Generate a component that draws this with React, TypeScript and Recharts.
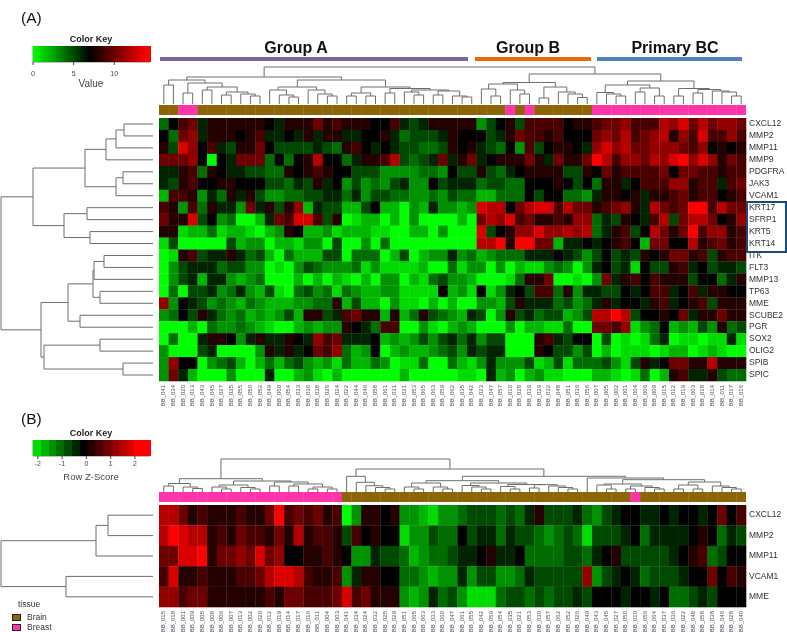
import React from 'react';
import { ScatterChart, Scatter, LineChart, Line, XAxis, YAxis, ReferenceArea } from 'recharts';

const FONT = '"Liberation Sans", Arial, sans-serif';

const GENES_A = ['CXCL12','MMP2','MMP11','MMP9','PDGFRA','JAK3','VCAM1','KRT17','SFRP1','KRT5','KRT14','ITK','FLT3','MMP13','TP63','MME','SCUBE2','PGR','SOX2','OLIG2','SPIB','SPIC'];
const GENES_B = ['CXCL12','MMP2','MMP11','VCAM1','MME'];
const SAMPLES_A = ['041','034','020','013','043','045','027','025','055','050','052','049','060','054','033','030','038','026','024','022','044','046','058','061','031','021','053','065','063','059','062','035','042','023','047','057','010','028','039','029','032','048','051','036','056','007','005','002','001','004','006','009','015','012','019','003','018','014','011','017','016'];
const SAMPLES_B = ['015','018','001','009','005','008','006','007','013','002','020','012','019','014','017','016','011','004','003','041','034','024','032','025','029','051','065','063','033','060','047','061','055','042','059','054','035','021','053','030','057','062','052','026','049','043','045','027','050','010','056','064','037','036','022','048','058','038','046','028','040'];

// Panel A expression values (Color Key scale 0 - 14), one list per gene
const CXCL12_A = [4,7,9,10,6,8,8,8,8,8,8,7,6,8,8,8,10,8,9,8,8,8,7,7,9,6,5,6,8,8,8, 8,8,3,5,7,8,5,9,9,9,9,7,8,8,9,10,10,11,9,9,9,12,11,13,10,12,10,11,11,10];
const MMP2_A = [7,4,10,11,6,8,8,8,7,8,9,6,6,7,6,8,6,8,8,6,6,7,7,8,6,4,5,5,5,6,8, 7,7,7,5,6,8,10,9,9,8,9,7,7,7,10,11,10,12,9,10,11,12,8,11,9,13,9,9,11,9];
const MMP11_A = [8,5,13,11,7,9,6,5,8,8,10,7,5,5,5,5,6,5,4,8,9,7,6,7,6,5,5,4,4,5,8, 7,8,6,5,4,7,3,9,5,7,8,8,7,6,11,13,11,12,10,10,11,11,11,10,9,11,7,8,7,8];
const MMP9_A = [10,10,10,11,7,0,7,6,10,10,10,4,7,4,7,8,12,7,7,4,6,8,8,9,12,5,4,5,6,10,6, 8,10,6,7,8,8,8,10,8,6,10,8,8,10,14,12,9,11,11,10,12,11,13,14,11,13,11,8,10,9];
const PDGFRA_A = [6,6,8,9,4,8,7,6,6,5,5,4,4,8,7,8,9,8,7,7,5,5,5,3,3,3,3,4,4,3,7, 5,5,8,5,4,6,7,8,8,8,8,5,5,8,7,10,8,9,9,9,9,10,7,10,10,9,9,8,9,9];
const JAK3_A = [6,5,8,9,7,7,8,8,7,7,7,5,5,4,6,5,8,6,7,3,5,3,4,3,5,6,3,3,7,5,6, 6,6,4,5,5,4,4,7,7,7,8,7,5,7,4,8,8,6,7,9,9,9,11,11,8,9,9,6,9,10];
const VCAM1_A = [2,9,9,8,3,6,4,8,6,8,5,3,3,4,4,5,5,6,6,4,6,3,5,5,4,4,3,3,4,3,5, 4,4,2,2,4,4,4,7,5,7,7,4,4,3,6,8,8,7,8,6,8,8,9,10,8,9,9,7,8,9];
const KRT17_A = [9,8,3,9,4,8,6,6,3,10,6,8,5,8,11,2,6,5,5,2,2,5,7,2,2,0,3,2,6,3,3, 2,3,13,12,12,7,10,12,13,13,9,12,10,10,8,9,10,11,8,6,12,10,9,10,14,14,9,12,10,10];
const SFRP1_A = [10,8,8,13,5,7,3,4,0,0,2,6,10,9,13,13,9,5,8,0,1,2,2,0,2,0,3,0,0,0,0, 2,0,10,12,11,13,9,10,8,8,9,8,11,11,4,6,5,8,7,6,9,12,5,10,12,12,10,7,8,11];
const KRT5_A = [8,8,1,2,2,4,1,2,2,1,0,2,3,8,7,2,2,3,1,2,2,2,1,1,0,0,2,2,0,3,0, 0,0,13,5,7,8,11,11,13,11,11,12,11,12,4,6,8,9,5,7,12,10,8,10,14,9,11,11,8,9];
const KRT14_A = [1,5,0,0,0,0,0,5,2,3,3,0,2,2,1,3,3,0,5,0,0,3,0,4,0,0,0,0,0,0,0, 0,0,12,12,14,8,14,14,10,10,2,6,6,7,6,7,8,9,7,2,10,10,7,7,12,8,9,10,8,9];
const ITK_A = [0,1,8,9,5,6,6,8,6,4,5,2,0,4,2,2,2,5,5,0,4,4,4,0,2,5,0,2,3,3,6, 3,4,2,3,4,4,4,6,6,6,7,6,5,3,5,7,5,6,5,8,7,8,10,10,8,9,5,8,9,9];
const FLT3_A = [0,3,5,6,6,6,4,5,5,3,3,0,1,0,3,5,4,3,3,3,4,1,3,1,1,1,1,2,0,0,4, 1,3,3,0,3,0,2,1,1,3,4,3,0,3,6,7,5,6,1,7,5,5,8,9,6,7,5,6,6,5];
const MMP13_A = [0,3,5,6,2,6,6,3,2,3,4,0,0,0,2,0,2,0,2,1,0,2,0,3,3,0,2,1,4,5,3, 3,2,0,0,0,1,4,8,8,10,0,0,1,0,3,10,6,8,9,7,9,8,8,8,5,7,7,4,6,8];
const TP63_A = [0,4,0,5,5,6,3,4,6,3,2,5,1,0,4,5,3,4,1,4,3,2,2,3,3,1,1,1,1,7,2, 3,1,7,1,3,6,7,5,9,9,4,8,3,6,6,5,5,7,6,7,9,9,6,7,9,6,8,8,7,7];
const MME_A = [11,3,7,6,5,3,4,3,2,4,3,2,2,2,3,3,4,4,8,2,5,2,2,0,3,1,1,0,2,0,2, 0,0,3,3,2,5,8,6,6,6,4,5,3,4,6,8,6,7,7,6,8,9,6,7,8,9,5,8,8,8];
const SCUBE2_A = [3,4,7,5,8,6,4,3,4,2,3,2,3,5,2,8,8,5,6,9,10,8,8,2,8,2,4,8,5,4,3, 2,6,5,0,3,8,5,6,4,5,5,2,3,5,12,12,14,12,5,7,7,8,7,10,6,8,8,10,8,8];
const PGR_A = [0,0,0,2,0,4,3,3,4,3,2,1,0,0,2,3,2,3,3,8,7,6,4,9,9,0,0,3,1,0,2, 3,2,0,0,0,3,0,2,2,1,1,4,0,0,10,10,9,11,1,3,4,7,2,3,2,5,3,8,4,5];
const SOX2_A = [0,4,0,0,6,8,8,7,3,6,8,6,6,8,7,6,11,9,10,6,6,6,7,2,3,2,3,5,3,5,6, 4,6,3,5,5,0,0,0,8,9,6,5,7,7,0,5,0,1,0,1,4,6,0,1,1,0,1,1,6,1];
const OLIG2_A = [3,0,0,0,5,6,0,0,0,0,3,8,6,8,6,7,10,9,11,4,2,3,7,0,2,3,2,2,3,4,5, 3,6,5,6,6,0,0,0,8,7,5,5,3,5,0,2,0,1,1,1,0,1,2,2,0,1,2,1,0,0];
const SPIB_A = [3,11,7,7,0,3,4,5,2,0,2,4,2,4,5,3,2,3,1,4,2,2,4,3,0,1,1,4,0,0,4, 2,1,3,6,3,3,3,5,1,2,5,1,4,4,4,5,3,1,5,8,6,7,10,10,8,8,12,8,8,8];
const SPIC_A = [3,10,6,2,0,0,0,3,0,0,0,6,0,0,2,3,1,0,2,0,0,0,0,0,0,2,0,0,0,0,0, 1,1,0,6,2,3,0,2,3,1,1,0,0,0,2,2,1,0,1,4,0,2,8,9,6,6,8,5,4,4];
const MATRIX_A = [CXCL12_A,MMP2_A,MMP11_A,MMP9_A,PDGFRA_A,JAK3_A,VCAM1_A,KRT17_A,SFRP1_A,KRT5_A,KRT14_A,ITK_A,FLT3_A,MMP13_A,TP63_A,MME_A,SCUBE2_A,PGR_A,SOX2_A,OLIG2_A,SPIB_A,SPIC_A];

// Panel B colour-key steps per gene (negative green, positive red)
const CXCL12_B = [5,5,3,1,2,1,1,1,2,1,1,3,7,2,3,2,3,1,2,-7,-4,1,1,0,1,-4,-4,-5,-6,-4,-4, -3,-2,-2,-2,-3,-2,-3,-1,1,-2,-2,-2,-1,-3,-4,-2,-1,0,0,-1,-1,0,-1,0,0,-1,0,3,0,2];
const MMP2_B = [5,7,6,5,5,1,2,1,3,2,2,1,3,1,5,1,2,2,1,-2,2,0,1,0,0,-6,-4,-4,-2,-3,-3, 0,-2,-1,-1,-3,-1,-2,-2,-3,-4,-3,-2,-3,-6,-2,-2,-2,-1,0,-3,-1,-1,-1,-1,0,1,0,-3,-1,-2];
const MMP11_B = [3,3,6,6,7,1,3,3,4,3,6,3,4,0,0,1,1,2,1,0,-4,-4,-1,-2,-2,-3,-5,-4,-3,-3,-2, -1,-1,0,1,-1,-1,0,-3,-3,-3,-3,-2,-2,-3,-1,0,1,-2,-2,-2,-2,-2,-1,0,1,2,-3,-2,0,0];
const VCAM1_B = [2,6,1,1,2,1,1,1,2,2,3,5,6,6,5,2,1,1,2,-4,-1,1,1,0,0,-3,-3,-4,-5,-4,-4, -1,-4,-2,-2,-4,-4,-3,-1,-2,-2,-2,-2,-2,4,-4,-2,-1,0,-1,-3,-2,-2,-2,-1,0,0,3,0,2,1];
const MME_B = [4,4,2,3,3,1,1,1,1,1,1,2,1,3,3,2,2,2,3,6,2,3,1,1,1,-4,-5,-4,-1,-3,-2, -4,-6,-6,-6,-3,-2,-2,-3,-2,-3,-2,-2,-1,-2,0,0,0,-1,0,0,-1,0,-3,-3,-2,-1,-2,0,0,0];
const MATRIX_B = [CXCL12_B,MMP2_B,MMP11_B,VCAM1_B,MME_B];

const TISSUE_RUNS_A: [string, number][] = [['Brain',2],['Breast',2],['Brain',32],['Breast',1],['Brain',1],['Breast',1],['Brain',6],['Breast',16]];
const TISSUE_RUNS_B: [string, number][] = [['Breast',19],['Brain',30],['Breast',1],['Brain',11]];
const TISSUE_COLOR: Record<string, string> = { Brain: '#8b6508', Breast: '#ff33aa' };

type Node = number | [Node, Node, number];

const TOP_TREE_A: Node = [
  [
    [[0,1,19],[[2,3,11],[[4,5,14],[[6,7,9],[8,[9,10,8],10],12],17],21],24],
    [
      [[11,[12,[13,14,7],9],14],[15,[16,[17,18,8],10],14],17],
      [[[19,20,8],[21,22,8],11],[[23,24,11],[[25,[26,27,9],12],[[28,29,9],[30,[31,32,7],8],13],14],15.5],17],
      24,
    ],
    27,
  ],
  [
    [[[33,[34,35,8],15],[36,[37,38,10],14],20],[[39,40,6],[41,[42,[43,44,6.5],10],12],17],21.5],
    [
      [[45,[46,[47,48,8],10],11.5],[[49,50,12],[51,52,8],16],19],
      [[53,54,8],[[55,56,11],[57,[58,[59,60,8],12],13],14.5],15.5],
      23,
    ],
    30,
  ],
  37,
];

const TOP_TREE_B: Node = [
  [
    [[0,1,6],[2,[3,4,3.5],5],8.5],
    [[[5,[6,7,3],5],[8,[9,10,3],4.5],7],[[11,12,6],[[13,14,6],[[15,16,3],[17,18,3],5],8],10],11],
    13.3,
  ],
  [
    [19,[20,[21,[22,[23,24,3],4.5],6.3],9.7],15.7],
    [
      [
        [[25,[26,27,3],5],[28,[29,30,3],5],9],
        [[31,[32,[33,34,3],5],6.5],[[35,[36,37,3],5.5],[[38,39,4],[40,[41,[42,43,3],4.5],6],7.3],7.5],9],
        11.3,
      ],
      [44,[[[45,[46,47,3],7],[[48,49,3],[50,[51,52,3],4.5],6],8],[[[53,54,3],[55,56,3],7],[57,[58,[59,60,3],4.5],6],10],12.3],14],
      15.7,
    ],
    23,
  ],
  33,
];

const LEFT_TREE_A: Node = [
  [
    [[[[0,1,29],2,37],3,47],[[4,5,30],6,37],68],
    [[7,8,66],[9,10,63],89],
    120,
  ],
  [
    [[[[11,12,49],13,59],[14,15,53],60],[16,17,73],85],
    [[18,19,53],[20,21,30],109],
    112,
  ],
  152,
];
const LEFT_TREE_B: Node = [[[0,1,45],2,57],[3,4,87],152];

function treePoints(tree: Node, horizontal: boolean) {
  const pts: { x: number; y: number | null }[] = [];
  const walk = (n: Node): { p: number; h: number } => {
    if (typeof n === 'number') return { p: n + 0.5, h: 0 };
    const a = walk(n[0]);
    const b = walk(n[1]);
    const h = n[2];
    const add = (p: number, v: number) => pts.push(horizontal ? { x: p, y: v } : { x: v, y: p });
    add(a.p, a.h); add(a.p, h); add(b.p, h); add(b.p, b.h);
    pts.push({ x: horizontal ? b.p : b.h, y: null });
    return { p: (a.p + b.p) / 2, h };
  };
  walk(tree);
  return pts;
}

const Abs: React.FC<{ left: number; top: number; children: React.ReactNode }> = ({ left, top, children }) => (
  <div style={{ position: 'absolute', left, top, lineHeight: 0 }}>{children}</div>
);

const TopDendro = ({ tree, top, height, maxH }: { tree: Node; top: number; height: number; maxH: number }) => (
  <Abs left={159} top={top}>
    <LineChart width={587} height={height} data={treePoints(tree, true)} margin={{ top: 0, right: 0, bottom: 0, left: 0 }}>
      <XAxis hide type="number" dataKey="x" domain={[0, 61]} />
      <YAxis hide type="number" domain={[0, maxH]} />
      <Line dataKey="y" stroke="#6e6e6e" strokeWidth={1} dot={false} connectNulls={false} isAnimationActive={false} />
    </LineChart>
  </Abs>
);

const LeftDendro = ({ tree, top, height, rows }: { tree: Node; top: number; height: number; rows: number }) => (
  <Abs left={0} top={top}>
    <LineChart width={153} height={height} data={treePoints(tree, false)} margin={{ top: 0, right: 0, bottom: 0, left: 0 }}>
      <XAxis hide reversed type="number" dataKey="x" domain={[0, 153]} />
      <YAxis hide reversed type="number" domain={[0, rows]} />
      <Line dataKey="y" stroke="#6e6e6e" strokeWidth={1} dot={false} connectNulls={false} isAnimationActive={false} />
    </LineChart>
  </Abs>
);

const colorA = (v: number) => {
  if (v < 7) return `rgb(0,${Math.round((255 * (7 - v)) / 7)},0)`;
  return `rgb(${Math.round((255 * (v - 7)) / 7)},0,0)`;
};
const colorB = (v: number) => (v < 0 ? `rgb(0,${Math.round((-v / 7) * 255)},0)` : `rgb(${Math.round((v / 7) * 255)},0,0)`);

const PLOT_W = 587;
const AXIS_H = 27;

const Heat = ({ matrix, genes, samples, top, height, color }: { matrix: number[][]; genes: string[]; samples: string[]; top: number; height: number; color: (v: number) => string }) => {
  const cells: { x: number; y: number; v: number }[] = [];
  matrix.forEach((row, r) => row.forEach((v, c) => cells.push({ x: c + 0.5, y: r + 0.5, v })));
  const w = PLOT_W / samples.length;
  const h = height / genes.length;
  return (
    <Abs left={159} top={top}>
      <ScatterChart width={PLOT_W + 42} height={height + AXIS_H} margin={{ top: 0, right: 0, bottom: 0, left: 0 }}>
        <XAxis
          type="number" dataKey="x" domain={[0, samples.length]} height={AXIS_H} interval={0}
          ticks={samples.map((_, i) => i + 0.5)} tickLine={false} axisLine={false} tickSize={0} tickMargin={0}
          tick={({ x, y, payload }: any) => (
            <text x={x} y={y + 4} transform={`rotate(-90 ${x} ${y + 4})`} textAnchor="end" dominantBaseline="middle" fontSize={6} fontFamily={FONT} fill="#4a4f5a">
              {'BB_' + samples[Math.floor(payload.value)]}
            </text>
          )}
        />
        <YAxis
          type="number" dataKey="y" reversed orientation="right" width={42} domain={[0, genes.length]} interval={0}
          ticks={genes.map((_, i) => i + 0.5)} tickLine={false} axisLine={false} tickSize={0} tickMargin={0}
          tick={({ x, y, payload }: any) => (
            <text x={x + 3} y={y} dominantBaseline="middle" fontSize={8.5} fontFamily={FONT} fill="#333">
              {genes[Math.floor(payload.value)]}
            </text>
          )}
        />
        <Scatter
          data={cells} isAnimationActive={false}
          shape={(p: any) => <rect x={p.cx - w / 2} y={p.cy - h / 2} width={w + 0.3} height={h + 0.3} fill={color(p.payload.v)} />}
        />
      </ScatterChart>
    </Abs>
  );
};

const Strip = ({ runs, top, height }: { runs: [string, number][]; top: number; height: number }) => {
  const cells: { x: number; y: number; t: string }[] = [];
  runs.forEach(([t, n]) => { for (let i = 0; i < n; i++) cells.push({ x: cells.length + 0.5, y: 0.5, t }); });
  const w = PLOT_W / cells.length;
  return (
    <Abs left={159} top={top}>
      <ScatterChart width={PLOT_W} height={height} margin={{ top: 0, right: 0, bottom: 0, left: 0 }}>
        <XAxis hide type="number" dataKey="x" domain={[0, 61]} />
        <YAxis hide type="number" dataKey="y" domain={[0, 1]} />
        <Scatter
          data={cells} isAnimationActive={false}
          shape={(p: any) => <rect x={p.cx - w / 2} y={0} width={w + 0.3} height={height} fill={TISSUE_COLOR[p.payload.t]} />}
        />
      </ScatterChart>
    </Abs>
  );
};

const KEY_A_TICKS = [0, 5, 10];
const KEY_A_STEPS = Array.from({ length: 72 }, (_, i) => (i + 0.5) * 0.2);
const KEY_B_TICKS = [-2, -1, 0, 1, 2];
const KEY_B_LEVELS = [-6, -5, -4, -3, -2, -1, 0, 1, 2, 3, 4, 5, 6, 7, 7];

const ColorKey = ({ left, top, domain, ticks, cells, cellW, overlap, margin, color }: { left: number; top: number; domain: [number, number]; ticks: number[]; cells: { x: number; v: number }[]; cellW: number; overlap: number; margin: number; color: (v: number) => string }) => (
  <Abs left={left - 8} top={top}>
    <ScatterChart width={117 + 16} height={16 + 26} margin={{ top: 0, right: 8, bottom: 0, left: 8 }}>
      <XAxis
        type="number" dataKey="x" domain={domain} ticks={ticks} interval={0} height={26} axisLine={false}
        tickSize={3} tickMargin={margin} tickLine={{ stroke: '#444' }} tick={{ fontSize: 7, fill: '#444', fontFamily: FONT }}
      />
      <YAxis hide type="number" dataKey="y" domain={[0, 1]} />
      <Scatter
        data={cells.map((c) => ({ ...c, y: 0.5 }))} isAnimationActive={false}
        shape={(p: any) => <rect x={p.cx - cellW / 2} y={p.cy - 8} width={cellW + overlap} height={16} fill={color(p.payload.v)} shapeRendering="crispEdges" />}
      />
      <ReferenceArea x1={domain[0]} x2={domain[1]} y1={0} y2={1} fill="none" stroke="#333" strokeWidth={0.6} ifOverflow="visible" />
    </ScatterChart>
  </Abs>
);

const T = ({ x, y, size, bold, color, children, anchor }: { x: number; y: number; size: number; bold?: boolean; color?: string; children: React.ReactNode; anchor?: 'left' | 'center' }) => (
  <div style={{ position: 'absolute', left: x, top: y - size, width: anchor === 'center' ? 0 : undefined, height: size * 2, lineHeight: `${size * 2}px`, fontSize: size, fontWeight: bold ? 700 : 400, color: color || '#222', whiteSpace: 'nowrap', display: 'flex', justifyContent: anchor === 'center' ? 'center' : 'flex-start' }}>
    {children}
  </div>
);

const Band = ({ x0, x1, color }: { x0: number; x1: number; color: string }) => (
  <div style={{ position: 'absolute', left: x0, top: 57, width: x1 - x0, height: 3.5, background: color }} />
);

export default function App() {
  return (
    <div style={{ position: 'absolute', left: 0, top: 0, width: 787, height: 632, overflow: 'hidden', background: '#fff', fontFamily: FONT, filter: 'blur(0.5px)' }}>
      <T x={21} y={17} size={15.5} color="#111">(A)</T>
      <T x={21} y={418} size={15.5} color="#111">(B)</T>

      <T x={91} y={39} size={9} bold color="#222" anchor="center">Color Key</T>
      <ColorKey left={33} top={46} domain={[0, 14.4]} ticks={KEY_A_TICKS} cellW={117 / 72} overlap={1} margin={6} color={colorA}
        cells={KEY_A_STEPS.map((v) => ({ x: v, v }))} />
      <T x={91} y={84} size={10} color="#444" anchor="center">Value</T>

      <T x={91} y={433} size={9} bold color="#222" anchor="center">Color Key</T>
      <ColorKey left={33} top={440} domain={[-2.2, 2.62]} ticks={KEY_B_TICKS} cellW={117 / 15} overlap={0.5} margin={2} color={colorB}
        cells={KEY_B_LEVELS.map((v, i) => ({ x: -2.2 + ((i + 0.5) * 4.82) / 15, v }))} />
      <T x={91} y={476} size={9.5} color="#444" anchor="center">Row Z-Score</T>

      <T x={296} y={48} size={16} bold color="#111" anchor="center">Group A</T>
      <T x={528} y={48} size={16} bold color="#111" anchor="center">Group B</T>
      <T x={675} y={48} size={16} bold color="#111" anchor="center">Primary BC</T>
      <Band x0={160} x1={468} color="#8064a2" />
      <Band x0={475} x1={590.5} color="#e46c0a" />
      <Band x0={597} x1={742} color="#4f81bd" />

      <TopDendro tree={TOP_TREE_A} top={64} height={40} maxH={40} />
      <Strip runs={TISSUE_RUNS_A} top={104.5} height={10} />
      <LeftDendro tree={LEFT_TREE_A} top={118} height={263} rows={22} />
      <Heat matrix={MATRIX_A} genes={GENES_A} samples={SAMPLES_A} top={118} height={263} color={colorA} />
      <div style={{ position: 'absolute', left: 746, top: 201, width: 37, height: 48, border: '2px solid #1f497d' }} />

      <TopDendro tree={TOP_TREE_B} top={455} height={37} maxH={37} />
      <Strip runs={TISSUE_RUNS_B} top={492} height={10} />
      <LeftDendro tree={LEFT_TREE_B} top={505} height={102} rows={5} />
      <Heat matrix={MATRIX_B} genes={GENES_B} samples={SAMPLES_B} top={505} height={102} color={colorB} />

      <T x={18} y={604} size={8.5} color="#333">tissue</T>
      <div style={{ position: 'absolute', left: 12, top: 614, width: 7, height: 5, background: '#8b6508', border: '0.5px solid #222' }} />
      <T x={27} y={617} size={8.5} color="#333">Brain</T>
      <div style={{ position: 'absolute', left: 12, top: 624, width: 7, height: 5, background: '#ff33aa', border: '0.5px solid #222' }} />
      <T x={27} y={627} size={8.5} color="#333">Breast</T>
    </div>
  );
}
